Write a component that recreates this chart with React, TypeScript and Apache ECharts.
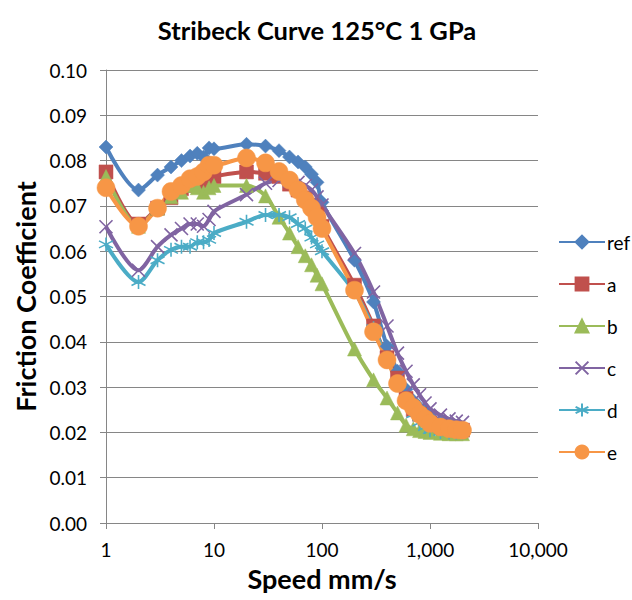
import React, { useEffect, useRef } from "react";
import * as echarts from "echarts";

const speeds = [1, 2, 3, 4, 5, 6, 7, 8, 9, 10, 20, 30, 40, 50, 60, 70, 80, 90, 100, 200, 300, 400, 500, 600, 700, 800, 900, 1000, 1250, 1500, 1750, 2000];

const refVals = [0.083, 0.0735, 0.0768, 0.0786, 0.08, 0.081, 0.0816, 0.0808, 0.0828, 0.0826, 0.0836, 0.0832, 0.0822, 0.0808, 0.0797, 0.0786, 0.077, 0.0752, 0.0708, 0.058, 0.0488, 0.039, 0.0335, 0.0295, 0.027, 0.0255, 0.0245, 0.0235, 0.0225, 0.0218, 0.0213, 0.021];
const aVals = [0.0775, 0.066, 0.0695, 0.0718, 0.0738, 0.0745, 0.075, 0.0755, 0.076, 0.0765, 0.0775, 0.0772, 0.0765, 0.0748, 0.0735, 0.0718, 0.0702, 0.0685, 0.0655, 0.0525, 0.0435, 0.0365, 0.032, 0.0275, 0.025, 0.024, 0.023, 0.022, 0.0213, 0.0208, 0.0205, 0.0205];
const bVals = [0.0765, 0.0655, 0.0695, 0.072, 0.073, 0.0745, 0.074, 0.073, 0.074, 0.0745, 0.0745, 0.0722, 0.0675, 0.064, 0.061, 0.059, 0.057, 0.0547, 0.0528, 0.0384, 0.0316, 0.0276, 0.0243, 0.0216, 0.0208, 0.0204, 0.0202, 0.02, 0.0198, 0.0197, 0.0197, 0.0197];
const cVals = [0.0654, 0.0558, 0.061, 0.0636, 0.065, 0.066, 0.066, 0.0655, 0.067, 0.0688, 0.0725, 0.075, 0.0756, 0.0755, 0.0752, 0.0745, 0.0735, 0.072, 0.0702, 0.0595, 0.051, 0.0435, 0.0375, 0.0335, 0.0305, 0.0283, 0.0265, 0.0252, 0.0238, 0.023, 0.0225, 0.0222];
const dVals = [0.0615, 0.0532, 0.058, 0.0603, 0.061, 0.061, 0.062, 0.062, 0.0625, 0.064, 0.0665, 0.068, 0.068, 0.0675, 0.066, 0.065, 0.063, 0.0615, 0.06, 0.051, 0.043, 0.0362, 0.031, 0.0265, 0.024, 0.0222, 0.0212, 0.0205, 0.0201, 0.02, 0.02, 0.02];
const eVals = [0.074, 0.0655, 0.0695, 0.0732, 0.0745, 0.076, 0.0765, 0.0775, 0.079, 0.079, 0.0806, 0.0795, 0.0776, 0.0757, 0.0735, 0.0713, 0.0695, 0.0675, 0.065, 0.0514, 0.0422, 0.036, 0.0308, 0.027, 0.0255, 0.024, 0.023, 0.022, 0.0212, 0.0208, 0.0206, 0.0205];

const seriesNames = ["ref", "a", "b", "c", "d", "e"];
const yTickLabels = ["0.00", "0.01", "0.02", "0.03", "0.04", "0.05", "0.06", "0.07", "0.08", "0.09", "0.10"];
const xTickLabels: Record<string, string> = { "1": "1", "10": "10", "100": "100", "1000": "1,000", "10000": "10,000" };

const FONT = "Lato, 'Open Sans', sans-serif";

export default function App() {
  const ref = useRef<HTMLDivElement>(null);
  useEffect(() => {
    if (!ref.current) return;
    const chart = echarts.init(ref.current, undefined, { renderer: "svg" });
    const colors = ["#4F81BD", "#C0504D", "#9BBB59", "#8064A2", "#4BACC6", "#F79646"];
    const symbols = [
      "diamond",
      "rect",
      "triangle",
      "path://M0,0L10,10M10,0L0,10",
      "path://M5,0L5,10M0,2.5L10,7.5M0,7.5L10,2.5",
      "circle",
    ];
    const sizes = [14, 14, 14, 13, 14, 18];
    const allVals = [refVals, aVals, bVals, cVals, dVals, eVals];
    const series = seriesNames.map((name, i) => ({
      name,
      type: "line",
      smooth: 0.3,
      data: speeds.map((s, k) => [s, allVals[i][k]]),
      symbol: symbols[i],
      symbolSize: sizes[i],
      showAllSymbol: true,
      lineStyle: { color: colors[i], width: 4 },
      itemStyle: {
        color: colors[i],
        borderColor: colors[i],
        borderWidth: i === 3 || i === 4 ? 1.6 : 0.5,
        opacity: 1,
      },
      emphasis: { disabled: true },
    }));
    chart.setOption({
      animation: false,
      textStyle: { fontFamily: FONT },
      color: colors,
      title: {
        text: "Stribeck Curve 125°C 1 GPa",
        left: 312,
        textAlign: "center",
        top: 12,
        textStyle: { fontFamily: FONT, fontSize: 25.5, fontWeight: "bold", color: "#000" },
      },
      legend: {
        orient: "vertical",
        left: 553,
        top: 227,
        itemWidth: 46,
        itemHeight: 16,
        itemGap: 22,
        textStyle: { fontFamily: FONT, fontSize: 19, lineHeight: 20, color: "#000", padding: [0, 0, 0, -3] },
        data: seriesNames,
      },
      grid: { left: 106, right: 94, top: 70, bottom: 77, containLabel: false },
      xAxis: {
        type: "log",
        logBase: 10,
        min: 1,
        max: 10000,
        name: "Speed mm/s",
        nameLocation: "middle",
        nameGap: 42,
        nameTextStyle: { fontFamily: FONT, fontSize: 27, fontWeight: "bold", color: "#000" },
        axisLine: { show: true, lineStyle: { color: "#868686", width: 1 } },
        axisTick: { show: true, length: 6, lineStyle: { color: "#868686" } },
        minorTick: { show: false },
        splitLine: { show: false },
        axisLabel: {
          fontFamily: FONT,
          fontSize: 19,
          color: "#000",
          margin: 17,
          formatter: (v: number) => xTickLabels[String(Math.round(v))] ?? String(v),
        },
      },
      yAxis: {
        type: "value",
        min: 0,
        max: 0.1,
        interval: 0.01,
        name: "Friction Coefficient",
        nameLocation: "middle",
        nameGap: 63,
        nameTextStyle: { fontFamily: FONT, fontSize: 27, fontWeight: "bold", color: "#000" },
        axisLine: { show: true, lineStyle: { color: "#868686", width: 1 } },
        axisTick: { show: true, length: 6, lineStyle: { color: "#868686" } },
        splitLine: { show: true, lineStyle: { color: "#868686", width: 1 } },
        axisLabel: {
          fontFamily: FONT,
          fontSize: 19,
          color: "#000",
          margin: 19,
          formatter: (v: number) => yTickLabels[Math.round(v * 100)] ?? v.toFixed(2),
        },
      },
      series,
    });
    return () => chart.dispose();
  }, []);
  return (
    <div
      ref={ref}
      style={{ position: "fixed", left: 0, top: 0, width: 632, height: 600, background: "#fff" }}
    />
  );
}
